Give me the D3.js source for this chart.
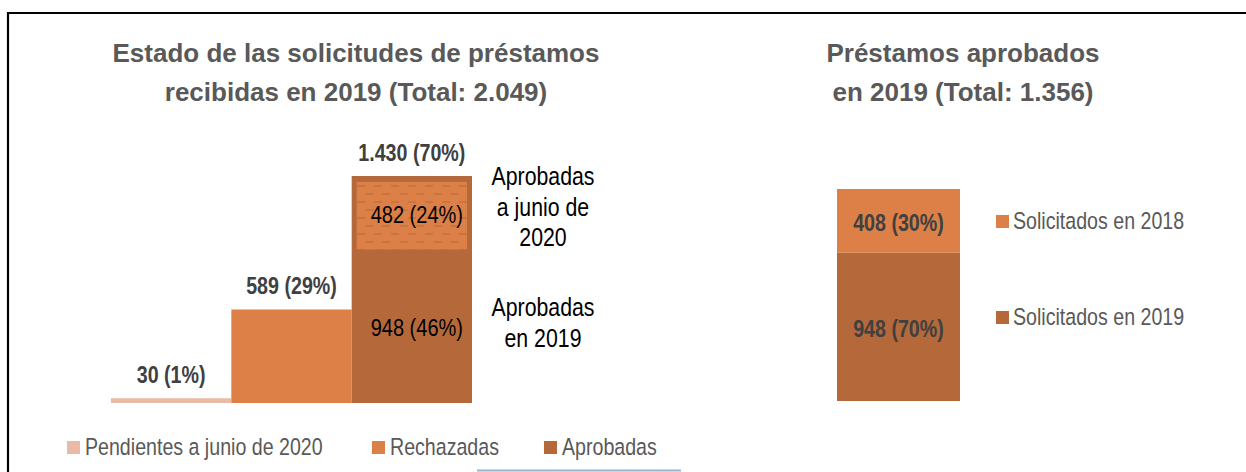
<!DOCTYPE html>
<html>
<head>
<meta charset="utf-8">
<script src="https://cdn.jsdelivr.net/npm/d3@7"></script>
<style>
   body { margin: 0; background: #fff; }
   svg { display: block; }
   text { font-family: "Liberation Sans", Arial, sans-serif; }
</style>
</head>
<body>
<div id="container"></div>
<script>
// left chart: status of the requests received in 2019
const categories = ["Pendientes a junio de 2020", "Rechazadas", "Aprobadas"];
const values = [30, 589, 1430];
const shares = [1, 29, 70];
// the approved bar split: approved in 2019 / approved by June 2020
const approvedParts = [948, 482];
const approvedShares = [46, 24];
const approvedNotes = [["Aprobadas", "en 2019"], ["Aprobadas", "a junio de", "2020"]];
// right chart: loans approved in 2019
const rightSeries = ["Solicitados en 2019", "Solicitados en 2018"];
const rightValues = [948, 408];
const rightShares = [70, 30];

const colors = ["#E9BAA5", "#DD8048", "#B5693A"];
const rightColors = ["#B5693A", "#DD8048"];
const labelColor = "#404040";
const legendColor = "#595959";

const width = 1246;
const height = 472;

/** no narrow font installed, so squeeze the text horizontally around its anchor */
const squeeze = (sel, x, k) => sel.attr("transform", `translate(${x},0) scale(${k},1) translate(${-x},0)`);
const REG = 0.835;
const BOLD = 0.855;

const svg = d3.select("#container").append("svg").attr("width", width).attr("height", height);

// frame (top + left edge only)
svg.append("path")
   .attr("d", `M8,${height} L8,13 L${width},13`)
   .attr("fill", "none")
   .attr("stroke", "#000")
   .attr("stroke-width", 2.2);

// hatch pattern for the "a junio de 2020" part
const defs = svg.append("defs");
const pat = defs.append("pattern")
   .attr("id", "dashes")
   .attr("patternUnits", "userSpaceOnUse")
   .attr("width", 17)
   .attr("height", 16)
   .attr("x", 357)
   .attr("y", 182);
pat.append("rect").attr("width", 17).attr("height", 16).attr("fill", colors[1]);
pat.append("line").attr("x1", 0).attr("x2", 8).attr("y1", 4).attr("y2", 4)
   .attr("stroke", "#B8703F").attr("stroke-width", 1.3);
pat.append("line").attr("x1", 8.5).attr("x2", 16.5).attr("y1", 12).attr("y2", 12)
   .attr("stroke", "#B8703F").attr("stroke-width", 1.3);

/** titles */
const titles = [
   { x: 356, lines: ["Estado de las solicitudes de préstamos", "recibidas en 2019 (Total: 2.049)"] },
   { x: 963, lines: ["Préstamos aprobados", "en 2019 (Total: 1.356)"] }
];
titles.forEach(t => {
   svg.append("text")
      .attr("text-anchor", "middle")
      .attr("font-weight", "bold")
      .attr("font-size", 26)
      .attr("fill", legendColor)
      .selectAll("tspan")
      .data(t.lines)
      .enter()
      .append("tspan")
      .attr("x", t.x)
      .attr("y", (d, i) => 62 + i * 39)
      .text(d => d);
});

/** left chart */
const xScale = d3.scaleBand().range([111, 472]).domain(categories).padding(0);
const yScale = d3.scaleLinear().range([403, 176]).domain([0, d3.max(values)]);

const left = svg.append("g");

left.selectAll()
   .data(values)
   .enter()
   .append("rect")
   .attr("x", (d, i) => xScale(categories[i]))
   .attr("y", d => yScale(d))
   .attr("width", xScale.bandwidth())
   .attr("height", d => yScale(0) - yScale(d))
   .attr("fill", (d, i) => colors[i]);

values.forEach((d, i) => {
   const cx = xScale(categories[i]) + xScale.bandwidth() / 2;
   left.append("text")
      .attr("x", cx)
      .attr("y", yScale(d) - 15)
      .attr("text-anchor", "middle")
      .attr("font-size", 23)
      .attr("font-weight", "bold")
      .attr("fill", labelColor)
      .text(`${d3.format(",")(d).replace(/,/g, ".")} (${shares[i]}%)`)
      .call(squeeze, cx, BOLD);
});

// stacked parts of the approved bar
const xa = xScale("Aprobadas");
const bw = xScale.bandwidth();
const starts = [0, approvedParts[0]];
const inset = 5;
left.append("rect")
   .attr("x", xa + inset)
   .attr("y", yScale(starts[1] + approvedParts[1]) + 6)
   .attr("width", bw - inset * 2)
   .attr("height", yScale(starts[1]) - yScale(starts[1] + approvedParts[1]) - 9)
   .attr("fill", "url(#dashes)");

approvedParts.forEach((v, i) => {
   const mid = (yScale(starts[i]) + yScale(starts[i] + v)) / 2;
   const cx = xa + bw / 2 + 5;
   left.append("text")
      .attr("x", cx)
      .attr("y", mid)
      .attr("dy", "0.36em")
      .attr("text-anchor", "middle")
      .attr("font-size", 24)
      .attr("fill", "#000")
      .text(`${v} (${approvedShares[i]}%)`)
      .call(squeeze, cx, REG);

   const noteY = i === 0 ? [316, 347] : [185, 216, 246];
   left.append("text")
      .attr("text-anchor", "middle")
      .attr("font-size", 25.5)
      .attr("fill", "#000")
      .call(squeeze, 543, REG)
      .selectAll("tspan")
      .data(approvedNotes[i])
      .enter()
      .append("tspan")
      .attr("x", 543)
      .attr("y", (d, j) => noteY[j])
      .text(d => d);
});

// bottom legend
const legendX = [67, 372, 544];
const legend = svg.append("g");
categories.forEach((c, i) => {
   legend.append("rect")
      .attr("x", legendX[i]).attr("y", 441)
      .attr("width", 13).attr("height", 13)
      .attr("fill", colors[i]);
   legend.append("text")
      .attr("x", legendX[i] + 18)
      .attr("y", 455)
      .attr("font-size", 23.5)
      .attr("fill", legendColor)
      .text(c)
      .call(squeeze, legendX[i] + 18, REG);
});

// stray blue rule at the bottom
svg.append("line")
   .attr("x1", 477).attr("x2", 681).attr("y1", 470.5).attr("y2", 470.5)
   .attr("stroke", "#95B3D0").attr("stroke-width", 2.2);

/** right chart */
const yRight = d3.scaleLinear().range([401, 189]).domain([0, d3.sum(rightValues)]);
const rightX = 837;
const rightW = 123;
const rightStarts = [0, rightValues[0]];
const right = svg.append("g");

right.selectAll()
   .data(rightValues)
   .enter()
   .append("rect")
   .attr("x", rightX)
   .attr("y", (d, i) => yRight(rightStarts[i] + d))
   .attr("width", rightW)
   .attr("height", (d, i) => yRight(rightStarts[i]) - yRight(rightStarts[i] + d))
   .attr("fill", (d, i) => rightColors[i]);

rightValues.forEach((d, i) => {
   const cx = rightX + rightW / 2;
   right.append("text")
      .attr("x", cx)
      .attr("y", (yRight(rightStarts[i]) + yRight(rightStarts[i] + d)) / 2 + 2)
      .attr("dy", "0.36em")
      .attr("text-anchor", "middle")
      .attr("font-size", 23)
      .attr("font-weight", "bold")
      .attr("fill", labelColor)
      .text(`${d} (${rightShares[i]}%)`)
      .call(squeeze, cx, BOLD);
});

const rightLegendY = [317, 221];
rightSeries.forEach((s, i) => {
   right.append("rect")
      .attr("x", 996).attr("y", rightLegendY[i] - 6)
      .attr("width", 13).attr("height", 13)
      .attr("fill", rightColors[i]);
   right.append("text")
      .attr("x", 1013)
      .attr("y", rightLegendY[i] + 8)
      .attr("font-size", 23.5)
      .attr("fill", legendColor)
      .text(s)
      .call(squeeze, 1013, REG);
});
</script>
</body>
</html>
